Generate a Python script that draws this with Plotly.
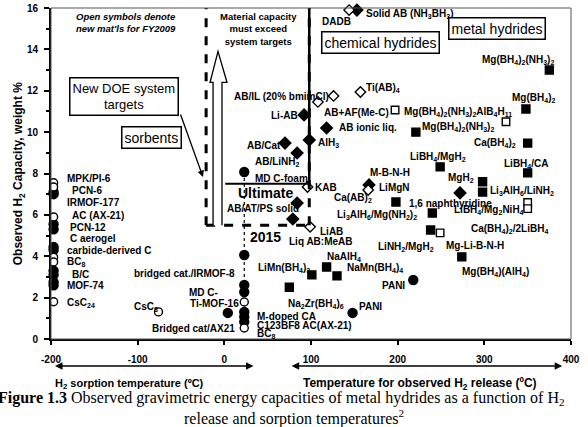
import plotly.graph_objects as go

# ---------------- data ----------------
# sorbents (circles)
sorbent_filled_x = [-197, -197, -197, -197, -197, -197, -197, -197, -197, -197,
                    23, 23, 23, 23, 23, 23, 23, 4, 148, 218]
sorbent_filled_y = [7.0, 7.1, 5.55, 5.3, 4.45, 4.3, 3.3, 3.1, 2.75, 2.6,
                    8.07, 4.06, 2.61, 2.27, 1.31, 1.07, 0.83, 1.26, 1.26, 2.85]
sorbent_open_x = [-197, -197, -197, -197, -197, -197, -76, 23, 23]
sorbent_open_y = [7.55, 7.35, 5.9, 3.95, 3.72, 1.8, 1.31, 1.79, 0.53]

# chemical hydrides (diamonds)
chem_filled_x = [153, 92, 118, 98, 70, 84, 84, 79, 167, 272]
chem_filled_y = [15.9, 10.83, 10.2, 9.62, 9.47, 8.99, 6.57, 5.8, 7.45, 7.06]
chem_open_x = [144, 157, 126, 108, 96, 99, 166]
chem_open_y = [15.9, 11.94, 11.75, 11.46, 7.35, 5.42, 7.2]

# metal hydrides (squares)
metal_filled_x = [375, 348, 221, 350, 249, 350, 298, 298, 198, 240, 238, 274, 101, 118, 130, 75]
metal_filled_y = [13.0, 11.12, 10.0, 9.47, 8.32, 8.03, 7.6, 7.1, 6.62, 6.09, 5.27, 3.97, 3.1, 3.48, 3.05, 2.5]
metal_open_x = [197, 325, 249, 350, 350]
metal_open_y = [11.07, 10.5, 5.13, 6.6, 6.3]

# dotted range of the sorbent column
range_x = [23, 23]
range_y = [8.07, 2.6]

# DOE targets
target_2015 = 5.5
target_ultimate = 7.5
target_t_low = -21
target_t_high = 98
ultimate_t_low = 1

# point labels: text, x, y, anchor
label_text = [
    "MPK/PI-6", "PCN-6", "IRMOF-177", "AC (AX-21)", "PCN-12", "C aerogel",
    "carbide-derived C", "BC<sub>8</sub>", "B/C", "MOF-74", "CsC<sub>24</sub>",
    "bridged cat./IRMOF-8", "CsC<sub>8</sub>", "MD C-", "Ti-MOF-16", "Bridged cat/AX21",
    "M-doped CA", "C123BF8 AC(AX-21)", "BC<sub>8</sub>",
    "LiMn(BH<sub>4</sub>)<sub>3</sub>", "NaAlH<sub>4</sub>", "NaMn(BH<sub>4</sub>)<sub>4</sub>",
    "Na<sub>2</sub>Zr(BH<sub>4</sub>)<sub>6</sub>", "PANI", "PANI",
    "Liq AB:MeAB", "LiAB", "AB/AT/PS solid", "MD C-foam", "KAB",
    "AB/LiNH<sub>2</sub>", "AB/Cat", "AlH<sub>3</sub>", "Li-AB", "AB/IL (20% bmimCl)",
    "AB+AF(Me-C)", "Mg(BH<sub>4</sub>)<sub>2</sub>(NH<sub>3</sub>)<sub>2</sub>AlB<sub>4</sub>H<sub>11</sub>",
    "AB ionic liq.", "Ti(AB)<sub>4</sub>", "DADB", "Solid AB (NH<sub>3</sub>BH<sub>3</sub>)",
    "Mg(BH<sub>4</sub>)<sub>2</sub>(NH<sub>3</sub>)<sub>2</sub>", "Mg(BH<sub>4</sub>)<sub>2</sub>",
    "Mg(BH<sub>4</sub>)<sub>2</sub>(NH<sub>3</sub>)<sub>2</sub>", "Ca(BH<sub>4</sub>)<sub>2</sub>",
    "LiBH<sub>4</sub>/MgH<sub>2</sub>", "MgH<sub>2</sub>", "LiBH<sub>4</sub>/CA", "M-B-N-H", "LiMgN",
    "Li<sub>3</sub>AlH<sub>6</sub>/LiNH<sub>2</sub>", "1,6 naphthyridine",
    "LiBH<sub>4</sub>/Mg<sub>2</sub>NiH<sub>4</sub>", "Ca(AB)<sub>2</sub>",
    "Li<sub>3</sub>AlH<sub>6</sub>/Mg(NH<sub>2</sub>)<sub>2</sub>",
    "Ca(BH<sub>4</sub>)<sub>2</sub>/2LiBH<sub>4</sub>", "LiNH<sub>2</sub>/MgH<sub>2</sub>",
    "Mg-Li-B-N-H", "Mg(BH<sub>4</sub>)(AlH<sub>4</sub>)",
]
label_x = [
    -184, -178, -184, -178, -180, -180, -184, -184, -178, -184, -184,
    15, -74, -43, -42, -86,
    35, 35, 35,
    37, 116, 139, 71, 180, 153,
    72, 108, 1, 33, 102,
    33, 24, 106, 87, 123,
    113, 205,
    130, 161, 110, 161,
    295, 330, 226, 286,
    212, 256, 320, 166, 176,
    304, 211, 263, 124, 128,
    282, 175, 254, 272,
]
label_y = [
    7.78, 7.2, 6.62, 5.95, 5.41, 4.88, 4.3, 3.72, 3.1, 2.61, 1.74,
    3.19, 1.55, 2.23, 1.7, 0.49,
    1.11, 0.63, 0.24,
    3.43, 3.96, 3.43, 1.7, 2.61, 1.55,
    4.69, 5.22, 6.33, 7.78, 7.3,
    8.56, 9.33, 9.47, 10.78, 11.7,
    10.97, 10.97,
    10.2, 12.13, 15.37, 15.7,
    13.49, 11.65, 10.25, 9.47,
    8.8, 7.78, 8.46, 8.03, 7.3,
    7.15, 6.57, 6.24, 6.82, 6.0,
    5.32, 4.45, 4.5, 3.24,
]
label_anchor = ["left"] * len(label_text)
for i in (11, 12, 33, 34):
    label_anchor[i] = "right"

# axis ticks
x_ticks = [-200, -100, 0, 100, 200, 300, 400]
y_ticks = [0, 2, 4, 6, 8, 10, 12, 14, 16]

FONT = "Liberation Sans, Arial, sans-serif"
SERIF = "Liberation Serif, Times New Roman, serif"

fig = go.Figure()


def add_pts(xs, ys, symbol, filled, size):
    fig.add_trace(go.Scatter(
        x=xs, y=ys, mode="markers", cliponaxis=False, hoverinfo="skip",
        marker=dict(symbol=symbol, size=size,
                    color="black" if filled else "white",
                    line=dict(color="black", width=1.4)),
    ))


fig.add_trace(go.Scatter(x=range_x, y=range_y, mode="lines",
                         line=dict(color="black", width=1.2, dash="dot"),
                         hoverinfo="skip"))
add_pts(sorbent_filled_x, sorbent_filled_y, "circle", True, 9)
add_pts(sorbent_open_x, sorbent_open_y, "circle", False, 8)
add_pts(chem_filled_x, chem_filled_y, "diamond", True, 9)
add_pts(chem_open_x, chem_open_y, "diamond", False, 8)
add_pts(metal_filled_x, metal_filled_y, "square", True, 8)
add_pts(metal_open_x, metal_open_y, "square", False, 7.5)

shapes = []
dash_line = dict(color="black", width=3, dash="dash")
shapes += [
    dict(type="line", xref="x", yref="y", x0=target_t_low, x1=target_t_low, y0=target_2015, y1=16, line=dash_line),
    dict(type="line", xref="x", yref="y", x0=target_t_high, x1=target_t_high, y0=target_2015, y1=16, line=dash_line),
    dict(type="line", xref="x", yref="y", x0=target_t_low, x1=target_t_high + 2, y0=target_2015, y1=target_2015, line=dash_line),
    dict(type="line", xref="x", yref="y", x0=ultimate_t_low, x1=target_t_high, y0=target_ultimate, y1=target_ultimate,
         line=dict(color="black", width=2)),
    dict(type="line", xref="x", yref="y", x0=target_t_high, x1=target_t_high, y0=target_ultimate, y1=16,
         line=dict(color="black", width=2.5)),
    dict(type="rect", xref="paper", yref="paper", x0=0, x1=1, y0=0, y1=1,
         line=dict(color="#555", width=1)),
]
ax_l, ax_r, hx_l, hx_r, tipx = -13, -2.7, -16.5, 3.1, -7.3
tip_y, head_y = 13.9, 12.4
shapes.append(dict(
    type="path", xref="x", yref="y",
    path=(f"M {ax_l},{target_2015} L {ax_l},{head_y} L {hx_l},{head_y} L {tipx},{tip_y} "
          f"L {hx_r},{head_y} L {ax_r},{head_y} L {ax_r},{target_2015}"),
    line=dict(color="black", width=1.3), fillcolor="white"))

ann = []
for t, x, y, a in zip(label_text, label_x, label_y, label_anchor):
    ann.append(dict(x=x, y=y, xref="x", yref="y", text=t, showarrow=False,
                    xanchor=a, yanchor="middle",
                    font=dict(family=FONT, size=10, color="black", weight="bold")))

ann.append(dict(x=47, y=4.93, xref="x", yref="y", text="2015", showarrow=False,
                font=dict(family=FONT, size=14, color="black", weight="bold")))
ann.append(dict(x=47, y=7.06, xref="x", yref="y", text="Ultimate", showarrow=False,
                font=dict(family=FONT, size=14, color="black", weight="bold")))
ann.append(dict(x=39, y=15.0, xref="x", yref="y",
                text="Material capacity<br>must exceed<br>system targets", showarrow=False,
                font=dict(family=FONT, size=9.5, color="black", weight="bold")))
ann.append(dict(x=-114, y=15.3, xref="x", yref="y",
                text="<i>Open symbols denote<br>new mat'ls for FY2009</i>", showarrow=False,
                font=dict(family=FONT, size=9.5, color="black", weight="bold")))


def boxed(text, x, y, size):
    ann.append(dict(x=x, y=y, xref="x", yref="y", text=text, showarrow=False,
                    font=dict(family=FONT, size=size, color="black"),
                    bordercolor="black", borderwidth=1.5, borderpad=2, bgcolor="white"))


boxed("New DOE system<br>targets", -116, 11.73, 13)
boxed("sorbents", -84, 9.75, 14)
boxed("chemical hydrides", 180, 14.35, 14)
boxed("metal hydrides", 315, 15.0, 14)

ann.append(dict(x=-24.6, y=7.83, xref="x", yref="y", text="", showarrow=True,
                arrowhead=2, arrowsize=1, arrowwidth=1.3, arrowcolor="black",
                ax=-23, ay=-64))

for xh, axp in ((0.0077, 200), (0.983, -272)):
    ann.append(dict(x=xh, y=-0.0816, xref="paper", yref="paper", text="", showarrow=True,
                    arrowhead=2, startarrowhead=2, arrowside="end+start",
                    arrowsize=1, arrowwidth=1.5, arrowcolor="black", ax=axp, ay=0))

ann.append(dict(x=0.15, y=-0.135, xref="paper", yref="paper", xanchor="center", yanchor="middle",
                text="H<sub>2</sub> sorption temperature (ºC)", showarrow=False,
                font=dict(family=FONT, size=11, color="black", weight="bold")))
ann.append(dict(x=0.71, y=-0.137, xref="paper", yref="paper", xanchor="center", yanchor="middle",
                text="Temperature for observed H<sub>2</sub> release (ºC)", showarrow=False,
                font=dict(family=FONT, size=12, color="black", weight="bold")))
ann.append(dict(x=-0.062, y=0.50, xref="paper", yref="paper", textangle=-90,
                xanchor="center", yanchor="middle",
                text="Observed H<sub>2</sub> Capacity, weight %", showarrow=False,
                font=dict(family=FONT, size=12, color="black", weight="bold")))

ann.append(dict(x=-0.106, y=-0.181, xref="paper", yref="paper", xanchor="left", yanchor="middle",
                text="<b>Figure 1.3</b> Observed gravimetric energy capacities of metal hydrides as a function of H<sub>2</sub>",
                showarrow=False, font=dict(family=SERIF, size=16, color="black")))
ann.append(dict(x=0.467, y=-0.236, xref="paper", yref="paper", xanchor="center", yanchor="middle",
                text="release and sorption temperatures<sup>2</sup>",
                showarrow=False, font=dict(family=SERIF, size=16, color="black")))

fig.update_layout(
    width=588, height=427,
    margin=dict(l=51, r=17, t=8, b=88, autoexpand=False),
    paper_bgcolor="white", plot_bgcolor="white",
    showlegend=False,
    shapes=shapes, annotations=ann,
    xaxis=dict(range=[-200, 400], tickvals=x_ticks, ticktext=[str(v) for v in x_ticks],
               showgrid=False, zeroline=False, showline=True, linecolor="black", linewidth=2,
               ticks="outside", ticklen=4, tickwidth=1.5, tickcolor="black",
               ticklabelstandoff=6, automargin=False,
               tickfont=dict(family=FONT, size=10, color="black", weight="bold")),
    yaxis=dict(range=[0, 16], tickvals=y_ticks,
               showgrid=False, zeroline=False, showline=True, linecolor="black", linewidth=2,
               ticks="outside", ticklen=5, tickwidth=1.5, tickcolor="black",
               ticklabelstandoff=4, automargin=False,
               minor=dict(dtick=1, ticks="outside", ticklen=3, tickcolor="black"),
               tickfont=dict(family=FONT, size=10, color="black", weight="bold")),
)

fig.write_html("out.html")
